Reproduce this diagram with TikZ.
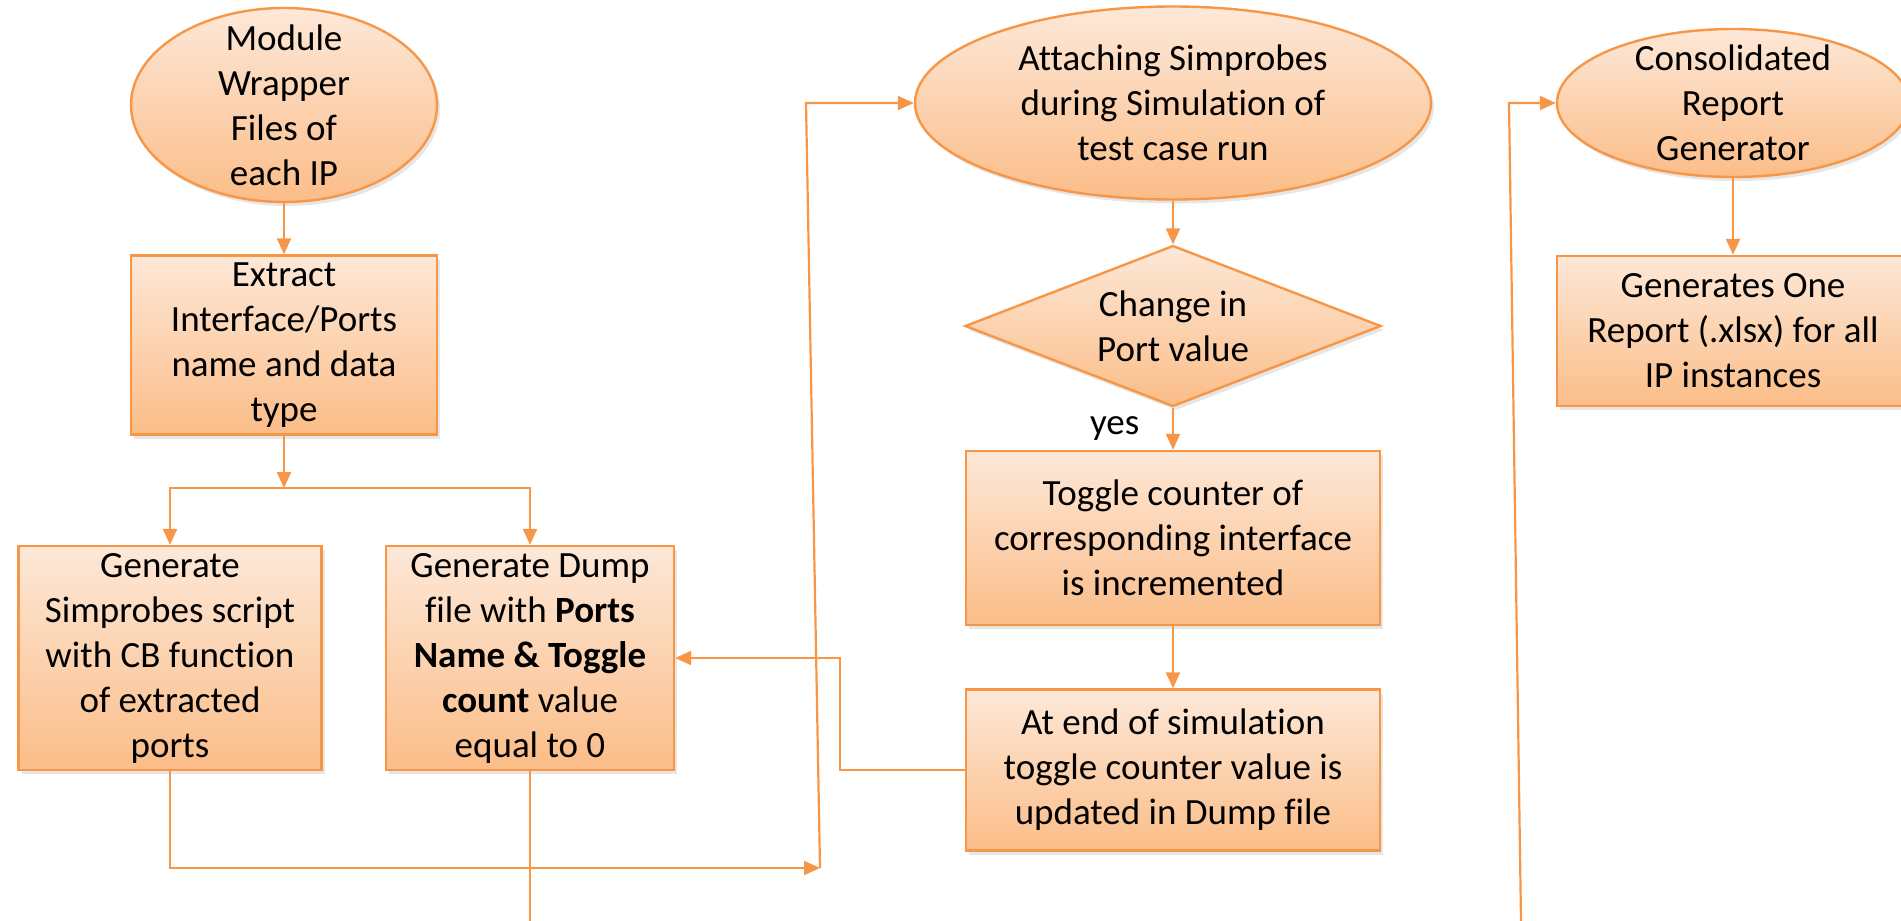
\documentclass[tikz,border=0pt]{standalone}
\usepackage{fontspec}
\setmainfont{Carlito}[Ligatures=NoCommon]
\usetikzlibrary{arrows.meta,shapes.geometric,shadows}
\definecolor{accent}{HTML}{F79646}
\definecolor{filltop}{HTML}{FDE8D8}
\definecolor{fillbot}{HTML}{FBBD88}
\tikzset{
  base/.style={draw=accent, line width=1.2pt, top color=filltop, bottom color=fillbot,
    align=center, font=\fontsize{18.5}{22.5}\selectfont,
    drop shadow={opacity=0.2, shadow xshift=1.5pt, shadow yshift=-2pt}},
  proc/.style={base, rectangle, inner sep=0pt},
  oval/.style={base, ellipse, inner xsep=-10pt, inner ysep=-10pt},
  decide/.style={base, diamond, aspect=2.6, inner sep=0pt},
  arr/.style={accent, line width=1.1pt, -{Triangle[length=8pt,width=7pt]}},
  line/.style={accent, line width=1.1pt},
  lbl/.style={text=black, font=\fontsize{18.5}{22.5}\selectfont},
}
\begin{document}
\begin{tikzpicture}[x=0.5pt, y=-0.5pt]
  \useasboundingbox (0,0) rectangle (1901,921);
  % first column
  \node[oval, minimum width=153pt, minimum height=97pt] (mod) at (284,105) {Module\\Wrapper\\Files of\\each IP};
  \node[proc, minimum width=153pt, minimum height=89.5pt] (ext) at (284,345) {Extract\\Interface/Ports\\name and data\\type};
  \node[proc, minimum width=151.5pt, minimum height=112pt] (gen) at (170,658) {Generate\\Simprobes script\\with CB function\\of extracted\\ports};
  \node[proc, minimum width=144pt, minimum height=112pt] (dump) at (530,658) {Generate Dump\\file with \textbf{Ports}\\\textbf{Name \& Toggle}\\\textbf{count} value\\equal to 0};
  % second column
  \node[oval, minimum width=258pt, minimum height=96.5pt] (att) at (1173,103) {Attaching Simprobes\\during Simulation of\\test case run};
  \node[decide, minimum width=208pt, minimum height=80.5pt] (chg) at (1173,326) {Change in\\Port value};
  \node[proc, minimum width=207pt, minimum height=87pt] (tog) at (1173,538) {Toggle counter of\\corresponding interface\\is incremented};
  \node[proc, minimum width=207pt, minimum height=80.5pt] (upd) at (1173,770) {At end of simulation\\toggle counter value is\\updated in Dump file};
  % third column
  \node[oval, minimum width=176pt, minimum height=74pt] (rep) at (1733,103) {Consolidated\\Report\\Generator};
  \node[proc, minimum width=176pt, minimum height=75pt] (one) at (1733,331) {Generates One\\Report (.xlsx) for all\\IP instances};

  \coordinate (split) at (284,488);
  \coordinate (c1) at (820,868);
  \coordinate (c2) at (806,103);
  \coordinate (fb) at (840,658);
  \coordinate (out1) at (530,921);
  \coordinate (c3) at (1521,921);
  \coordinate (c4) at (1509,103);

  \draw[arr] (mod) -- (ext);
  \draw[arr] (ext) -- (split);
  \draw[arr] (split) -| (gen);
  \draw[arr] (split) -| (dump);
  \draw[arr] (gen) |- (c1);
  \draw[arr] (c1) -- (c2) -- (att);
  \draw[line] (dump) -- (out1);
  \draw[arr] (att) -- (chg);
  \draw[arr] (chg) -- node[lbl, left=13pt] (yes) {yes} (tog);
  \draw[arr] (tog) -- (upd);
  \draw[arr] (upd) -| (fb) -- (dump);
  \draw[arr] (c3) -- (c4) -- (rep);
  \draw[arr] (rep) -- (one);
\end{tikzpicture}
\end{document}
